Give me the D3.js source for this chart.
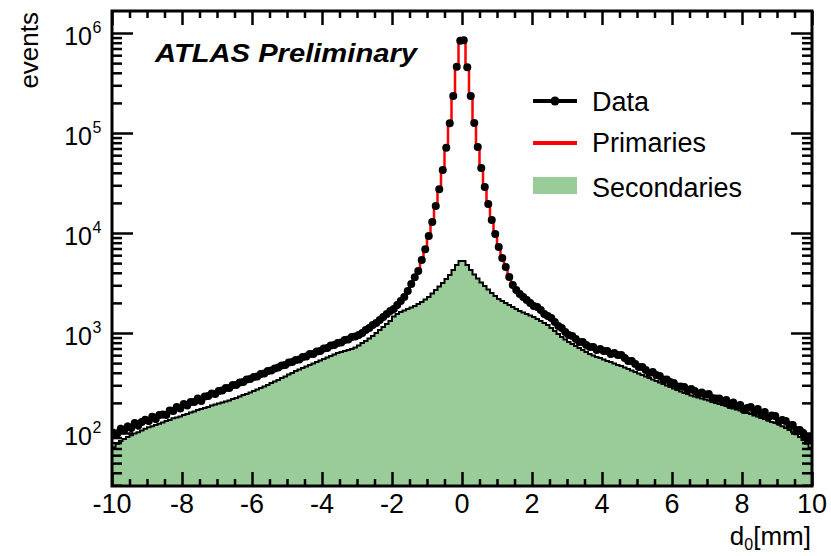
<!DOCTYPE html>
<html><head><meta charset="utf-8">
<script src="https://cdn.jsdelivr.net/npm/d3@7"></script>
<style>body{margin:0;background:#fff}svg{display:block}text{font-family:"Liberation Sans",Arial,Helvetica,sans-serif}</style>
</head><body><svg id="c" width="831" height="556"></svg>
<script>
// ---- data (200 bins of 0.1 mm from -10 to 10) ----
const binEdgesRange = [-10, 10];
const binWidth = 0.1;
const dataCounts = [
100,98,110,107,116,112,126,119,129,136,132,145,138,151,153,151,168,166,182,176,
195,188,204,204,221,209,232,234,248,245,263,266,282,282,302,302,320,324,343,347,
363,367,389,394,417,422,442,452,473,479,507,513,537,543,575,582,617,617,653,661,
700,708,750,759,794,804,851,861,912,923,955,1000,1072,1122,1202,1259,1349,1445,1549,1660,
1738,1905,2089,2291,2630,3090,3606,4169,5370,6871,9333,12880,18620,27350,42660,71290,125000,234400,460300,837500,
845000,455000,234000,126000,72440,44670,28840,19500,13490,9772,7244,5623,4571,3631,3020,2692,2455,2291,2138,1995,
1862,1820,1698,1549,1479,1413,1288,1175,1122,1023,955,933,871,813,813,759,724,724,676,692,
661,661,617,631,603,603,562,525,525,490,457,457,427,398,407,380,372,343,343,324,
316,292,292,288,269,275,263,245,254,243,245,224,221,221,204,214,191,202,186,191,
170,178,182,162,174,151,162,143,150,148,130,135,132,120,120,107,107,100,89,89
];
const primariesCounts = [
98,100,105,107,111,115,117,122,126,130,135,138,145,148,153,158,164,170,174,180,
186,193,200,204,211,219,226,234,243,251,257,266,275,285,295,302,313,324,335,347,
355,367,380,394,407,422,437,447,462,479,495,513,525,543,562,582,603,617,638,661,
684,708,733,750,776,804,832,861,891,923,955,1000,1072,1122,1202,1259,1349,1445,1549,1660,
1738,1905,2089,2291,2630,3090,3606,4169,5370,6871,9333,12880,18620,27350,42660,71290,125000,234400,460300,832000,
840000,458000,234000,126000,72440,44670,28840,19500,13490,9772,7244,5623,4571,3631,3020,2692,2455,2291,2138,1995,
1862,1778,1698,1585,1479,1380,1288,1175,1096,1023,955,912,871,813,794,759,724,708,692,676,
661,646,631,617,603,589,562,537,513,490,468,447,427,407,398,380,363,351,339,324,
309,299,292,282,275,269,263,254,248,243,234,229,221,216,209,204,200,193,188,182,
178,174,170,166,162,158,155,150,146,141,136,132,126,120,115,110,105,100,93,87
];
const secondariesCounts = [
72,78,83,87,91,95,99,102,106,110,114,117,120,124,127,132,135,140,143,146,
151,155,160,164,170,174,178,182,188,193,197,202,207,211,219,224,232,240,245,254,
263,272,282,292,302,316,327,339,355,367,385,398,417,432,447,462,479,495,513,531,
550,569,589,610,631,646,661,676,692,716,750,794,832,881,933,1000,1072,1148,1230,1318,
1462,1549,1622,1679,1738,1799,1862,1950,2042,2163,2291,2483,2692,2917,3162,3467,3802,4266,4786,5248,
5248,4786,4266,3846,3508,3199,2951,2723,2512,2344,2188,2089,1995,1905,1820,1738,1660,1603,1549,1496,
1445,1380,1318,1259,1202,1122,1047,977,912,861,813,776,741,708,676,646,617,596,575,562,
543,525,513,495,479,468,452,437,422,407,394,380,367,355,343,331,320,309,299,288,
279,269,260,251,245,237,232,226,221,216,211,204,200,195,191,186,180,176,172,168,
162,158,155,150,146,141,138,133,129,126,122,117,112,107,102,97,91,85,78,71
];
const xTickLabels = ["-10","-8","-6","-4","-2","0","2","4","6","8","10"];
const yExponents = [2,3,4,5,6];
const yRange = [29.5, 1.66e6];
const legendItems = ["Data","Primaries","Secondaries"];

// ---- layout ----
const L = 112, R = 812, T = 11, B = 486;
const svg = d3.select("#c");
const x = d3.scaleLinear().domain(binEdgesRange).range([L, R]);
const y = d3.scaleLog().domain(yRange).range([B, T]);
const bins = dataCounts.map((v, i) => {
  const lo = binEdgesRange[0] + i * binWidth;
  return {lo, hi: lo + binWidth, c: lo + binWidth / 2, data: v, prim: primariesCounts[i], sec: secondariesCounts[i]};
});

svg.append("clipPath").attr("id","clip").append("rect").attr("x",L).attr("y",T).attr("width",R-L).attr("height",B-T);
const plot = svg.append("g").attr("clip-path","url(#clip)");

function steps(key){ const p=[]; bins.forEach(b=>{p.push([b.lo,b[key]]);p.push([b.hi,b[key]]);}); return p; }

// secondaries
const secPts = steps("sec");
plot.append("path").datum(secPts)
  .attr("d", d3.area().x(d=>x(d[0])).y0(B+5).y1(d=>y(d[1])))
  .attr("fill","#99cc99");
plot.append("path").datum(secPts)
  .attr("d", d3.line().x(d=>x(d[0])).y(d=>y(d[1])))
  .attr("fill","none").attr("stroke","#000").attr("stroke-width",2);

// primaries
plot.append("path").datum(steps("prim"))
  .attr("d", d3.line().x(d=>x(d[0])).y(d=>y(d[1])))
  .attr("fill","none").attr("stroke","#ff0000").attr("stroke-width",2.5);

// data
const dg = plot.append("g");
dg.selectAll("line.h").data(bins).join("line").attr("class","h")
  .attr("x1",d=>x(d.lo)).attr("x2",d=>x(d.hi)).attr("y1",d=>y(d.data)).attr("y2",d=>y(d.data))
  .attr("stroke","#000").attr("stroke-width",2.5);
dg.selectAll("line.v").data(bins).join("line").attr("class","v")
  .attr("x1",d=>x(d.c)).attr("x2",d=>x(d.c))
  .attr("y1",d=>y(d.data+Math.sqrt(d.data))).attr("y2",d=>y(Math.max(1,d.data-Math.sqrt(d.data))))
  .attr("stroke","#000").attr("stroke-width",2.5);
dg.selectAll("circle").data(bins).join("circle")
  .attr("cx",d=>x(d.c)).attr("cy",d=>y(d.data)).attr("r",4).attr("fill","#000");

// ---- axes (ticks inward on all four sides) ----
const xMajor = xTickLabels.map(Number);
const xMinor = d3.range(-9.5, 10, 0.5).filter(v => Math.abs(v % 2) > 1e-9);
const yMajor = yExponents.map(e => Math.pow(10, e));
const yMinor = [];
for (let m = 3; m <= 9; m++) { const v = m * 10; if (v > yRange[0]) yMinor.push(v); }
[2,3,4,5,6].forEach(e => { for (let m = 2; m <= 9; m++) { const v = m * Math.pow(10, e); if (v < yRange[1]) yMinor.push(v); } });

function tickAxis(axisFn, scale, vals, size, tx, ty){
  const g = svg.append("g").attr("transform",`translate(${tx},${ty})`)
    .call(axisFn(scale).tickValues(vals).tickSize(size).tickFormat(""));
  g.select(".domain").remove();
  g.selectAll("line").attr("stroke","#000").attr("stroke-width",2.5);
  return g;
}
tickAxis(d3.axisBottom, x, xMajor, -14, 0, B);
tickAxis(d3.axisBottom, x, xMinor, -7, 0, B);
tickAxis(d3.axisTop, x, xMajor, -14, 0, T);
tickAxis(d3.axisTop, x, xMinor, -7, 0, T);
tickAxis(d3.axisLeft, y, yMajor, -21, L, 0);
tickAxis(d3.axisLeft, y, yMinor, -10, L, 0);
tickAxis(d3.axisRight, y, yMajor, -21, R, 0);
tickAxis(d3.axisRight, y, yMinor, -10, R, 0);

// frame
svg.append("rect").attr("x",L).attr("y",T).attr("width",R-L).attr("height",B-T)
  .attr("fill","none").attr("stroke","#000").attr("stroke-width",3);

// x tick labels
svg.append("g").selectAll("text").data(xTickLabels).join("text")
  .attr("x",d=>x(+d)).attr("y",B+27).attr("text-anchor","middle")
  .attr("font-size",27).text(d=>d);

// y tick labels
const yl = svg.append("g").selectAll("g").data(yExponents).join("g")
  .attr("transform",e=>`translate(0,${y(Math.pow(10,e))})`);
yl.append("text").attr("x",92).attr("y",12).attr("text-anchor","end").attr("font-size",25).text("10");
yl.append("text").attr("x",92.5).attr("y",0).attr("text-anchor","start").attr("font-size",16).text(e=>e);

// axis titles
svg.append("text").attr("transform","translate(38,12) rotate(-90)").attr("text-anchor","end")
  .attr("font-size",26).text("events");
const xt = svg.append("text").attr("x",811).attr("y",545).attr("text-anchor","end").attr("font-size",26);
xt.append("tspan").text("d");
xt.append("tspan").attr("font-size",16).attr("dy",5).text("0");
xt.append("tspan").attr("dy",-5).text("[mm]");

// ATLAS label
svg.append("text").attr("x",155).attr("y",62).attr("font-size",25).attr("font-weight","bold")
  .attr("font-style","italic").attr("textLength",262).attr("lengthAdjust","spacingAndGlyphs")
  .text("ATLAS Preliminary");

// legend
const lg = svg.append("g");
lg.append("line").attr("x1",533).attr("x2",577).attr("y1",101).attr("y2",101).attr("stroke","#000").attr("stroke-width",4);
lg.append("circle").attr("cx",555).attr("cy",101).attr("r",4.5).attr("fill","#000");
lg.append("line").attr("x1",533).attr("x2",577).attr("y1",143).attr("y2",143).attr("stroke","#ff0000").attr("stroke-width",4);
lg.append("rect").attr("x",533).attr("y",177).attr("width",44).attr("height",17).attr("fill","#99cc99");
lg.selectAll("text").data(legendItems).join("text")
  .attr("x",592).attr("y",(d,i)=>[111,152,197][i]).attr("font-size",27).text(d=>d);
</script></body></html>
